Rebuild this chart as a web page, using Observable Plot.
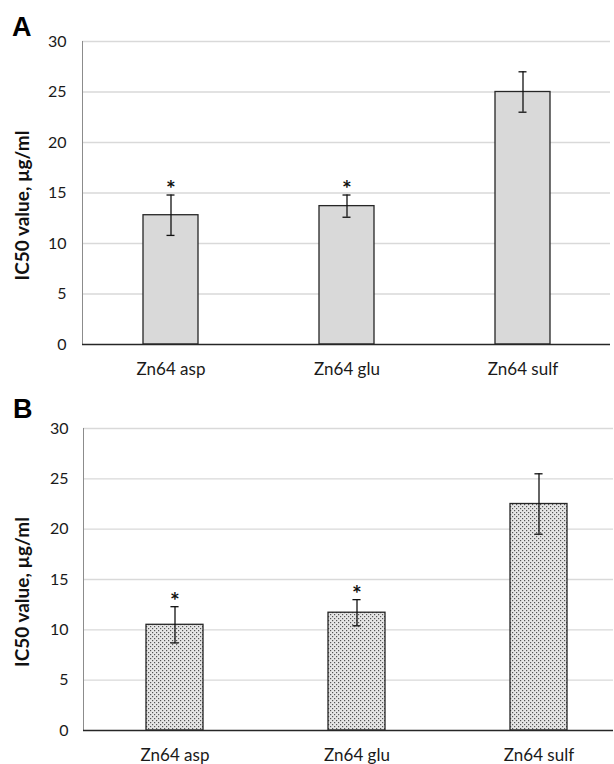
<!DOCTYPE html>
<html>
<head>
<meta charset="utf-8">
<script src="https://cdn.jsdelivr.net/npm/d3@7"></script>
<script src="https://cdn.jsdelivr.net/npm/@observablehq/plot@0.6"></script>
<style>
  html, body { margin: 0; padding: 0; background: #fff; overflow: hidden; }
  #wrap { position: relative; width: 614px; height: 764px; overflow: hidden; background: #fff; }
  .panel { position: absolute; left: 0; z-index: 1; }
  .letter { position: absolute; z-index: 2; font-family: "Liberation Sans", Arial, sans-serif; font-weight: bold; font-size: 27px; line-height: 1; color: #000; }
</style>
</head>
<body>
<div id="wrap">
  <div id="pa" class="panel" style="top:0px;"></div>
  <div id="pb" class="panel" style="top:380px;"></div>
  <div class="letter" style="left:12px; top:14px;">A</div>
  <div class="letter" style="left:13px; top:396px;">B</div>
</div>
<script>
const categories = ["Zn64 asp", "Zn64 glu", "Zn64 sulf"];
const valuesA = [12.8, 13.7, 25.0];
const errorsA = [2.0, 1.1, 2.0];
const starsA = ["*", "*", ""];
const valuesB = [10.5, 11.7, 22.5];
const errorsB = [1.8, 1.3, 3.0];
const starsB = ["*", "*", ""];
const yTicks = [0, 5, 10, 15, 20, 25, 30];
const yTitle = "IC50 value, µg/ml";

function makePanel(values, errors, stars, cfg) {
  const data = categories.map((c, i) => ({cat: c, value: values[i], lo: values[i] - errors[i], hi: values[i] + errors[i], star: stars[i]}));
  const bw = (cfg.range[1] - cfg.range[0]) / 3 * (1 - 0.6875);
  const capInset = (bw - 8) / 2;
  const svg = Plot.plot({
    width: 614,
    height: cfg.height,
    marginTop: cfg.marginTop,
    marginBottom: cfg.marginBottom,
    marginLeft: cfg.marginLeft,
    marginRight: cfg.marginRight,
    style: {fontFamily: "Lato, sans-serif", fontSize: "16px", color: "#1a1a1a", background: "white"},
    x: {type: "band", domain: categories, range: cfg.range, paddingInner: 0.6875, paddingOuter: 0.34375, label: null},
    y: {domain: [0, 30], label: null},
    marks: [
      Plot.ruleY(yTicks.slice(1), {stroke: "#d9d9d9", strokeWidth: 1.3}),
      Plot.frame({anchor: "left", stroke: "#8c8c8c", strokeWidth: 1}),
      Plot.barY(data, {x: "cat", y: "value", fill: cfg.fill, stroke: "#262626", strokeWidth: 1.3}),
      Plot.ruleY([0], {stroke: "#262626", strokeWidth: 1.5}),
      Plot.ruleX(data, {x: "cat", y1: "lo", y2: "hi", stroke: "#111", strokeWidth: 1.3}),
      Plot.tickY(data, {x: "cat", y: "hi", stroke: "#111", strokeWidth: 1.3, insetLeft: capInset, insetRight: capInset}),
      Plot.tickY(data, {x: "cat", y: "lo", stroke: "#111", strokeWidth: 1.3, insetLeft: capInset, insetRight: capInset}),
      Plot.text(data.filter(d => d.star), {x: "cat", y: "hi", text: "star", dy: -5, fontSize: 23, fontWeight: "bold", fill: "#111"}),
      Plot.axisY({ticks: yTicks, tickSize: 0, tickPadding: cfg.tickPad, fontSize: 16, label: null}),
      Plot.axisX({tickSize: 0, tickPadding: 18, fontSize: 17, label: null}),
      Plot.text([yTitle], {frameAnchor: "left", textAnchor: "middle", dx: cfg.titleDx, dy: 12.5, rotate: -90, fontWeight: "bold", fontSize: 19, fill: "#111"})
    ]
  });
  return svg;
}

const svgA = makePanel(valuesA, errorsA, starsA, {
  height: 380, marginTop: 41, marginBottom: 36, marginLeft: 82, marginRight: 4,
  range: [82.5, 610.5], fill: "#d9d9d9", tickPad: 16, titleDx: -60
});
document.getElementById("pa").appendChild(svgA);

const svgB = makePanel(valuesB, errorsB, starsB, {
  height: 384, marginTop: 48, marginBottom: 34, marginLeft: 83, marginRight: 1,
  range: [83.3, 629.3], fill: "url(#dotpat)", tickPad: 15, titleDx: -61
});
const ns = "http://www.w3.org/2000/svg";
const defs = document.createElementNS(ns, "defs");
const pat = document.createElementNS(ns, "pattern");
pat.setAttribute("id", "dotpat");
pat.setAttribute("patternUnits", "userSpaceOnUse");
pat.setAttribute("width", "4");
pat.setAttribute("height", "4");
const bg = document.createElementNS(ns, "rect");
bg.setAttribute("width", "4"); bg.setAttribute("height", "4"); bg.setAttribute("fill", "#e6e6e6");
pat.appendChild(bg);
[[0, 0], [2, 2]].forEach(([px, py]) => {
  const r = document.createElementNS(ns, "rect");
  r.setAttribute("x", px); r.setAttribute("y", py);
  r.setAttribute("width", "1.2"); r.setAttribute("height", "1.2");
  r.setAttribute("fill", "#555");
  pat.appendChild(r);
});
defs.appendChild(pat);
svgB.insertBefore(defs, svgB.firstChild);
document.getElementById("pb").appendChild(svgB);
</script>
</body>
</html>
